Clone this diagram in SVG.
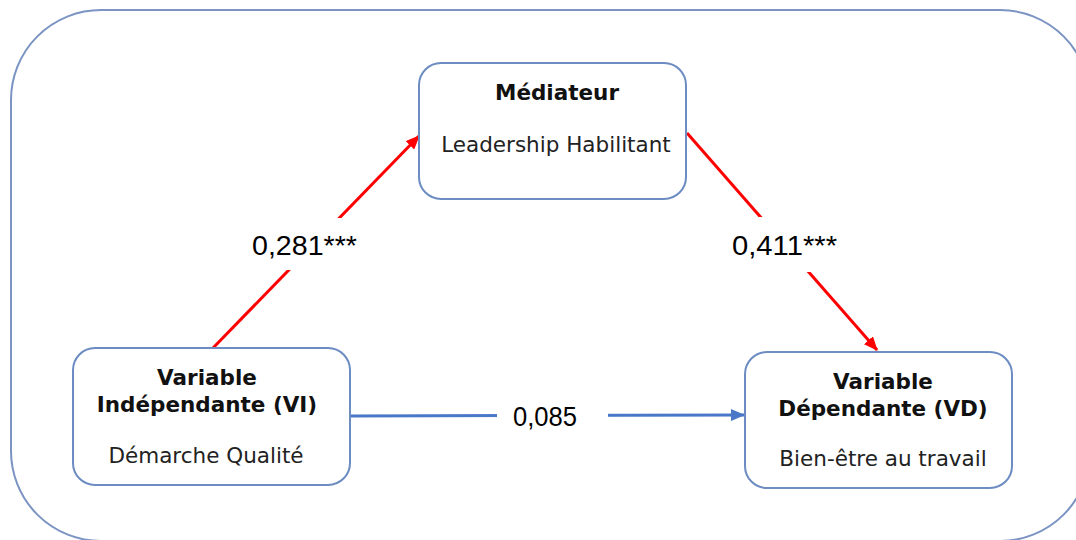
<svg xmlns="http://www.w3.org/2000/svg" width="1076" height="540" viewBox="0 0 1076 540">
  <style>
    .box { fill: #ffffff; stroke: #6c8cc2; stroke-width: 2; }
    .title { font-family: "DejaVu Sans", Verdana, sans-serif; font-weight: bold; font-size: 21.5px; fill: #111111; text-anchor: middle; }
    .body { font-family: "DejaVu Sans", Verdana, sans-serif; font-size: 21.5px; fill: #222222; text-anchor: middle; }
    .coef { font-family: "Liberation Sans", Arial, sans-serif; font-size: 27px; fill: #000000; text-anchor: middle; }
    .red { stroke: #ff0000; stroke-width: 3; fill: none; }
    .blue { stroke: #4a78c8; stroke-width: 3; fill: none; }
  </style>
  <defs>
    <marker id="arrRed" markerUnits="userSpaceOnUse" markerWidth="14" markerHeight="12" refX="13" refY="6" orient="auto">
      <path d="M0,0 L14,6 L0,12 Z" fill="#ff0000"/>
    </marker>
    <marker id="arrBlue" markerUnits="userSpaceOnUse" markerWidth="14" markerHeight="12" refX="13" refY="6" orient="auto">
      <path d="M0,0 L14,6 L0,12 Z" fill="#4a78c8"/>
    </marker>
  </defs>
  <rect width="1076" height="540" fill="#ffffff"/>
  <rect id="frame" x="11" y="10" width="1079" height="531" rx="90" ry="90" fill="none" stroke="#7b94c3" stroke-width="2"/>

  <g id="connectors">
    <line class="red" x1="213" y1="348" x2="419" y2="136" marker-end="url(#arrRed)"/>
    <line class="red" x1="687" y1="133" x2="877" y2="350" marker-end="url(#arrRed)"/>
    <line class="blue" x1="351" y1="416" x2="744" y2="415" marker-end="url(#arrBlue)"/>
    <rect x="246" y="218" width="116" height="52" fill="#ffffff"/>
    <rect x="726" y="217" width="116" height="55" fill="#ffffff"/>
    <rect x="497" y="398" width="111" height="36" fill="#ffffff"/>
    <text class="coef" x="304.5" y="255" textLength="105" lengthAdjust="spacingAndGlyphs">0,281***</text>
    <text class="coef" x="784.5" y="255" textLength="105" lengthAdjust="spacingAndGlyphs">0,411***</text>
    <text class="coef" x="545" y="426" textLength="64" lengthAdjust="spacingAndGlyphs">0,085</text>
  </g>

  <g id="mediateur">
    <rect class="box" x="419" y="63" width="267" height="136" rx="22" ry="22"/>
    <text class="title" x="557" y="100">Médiateur</text>
    <text class="body" x="556" y="152">Leadership Habilitant</text>
  </g>

  <g id="vi">
    <rect class="box" x="73" y="348" width="277" height="137" rx="22" ry="22"/>
    <text class="title" x="207" y="385">Variable</text>
    <text class="title" x="207" y="412">Indépendante (VI)</text>
    <text class="body" x="206" y="463">Démarche Qualité</text>
  </g>

  <g id="vd">
    <rect class="box" x="745" y="352" width="267" height="136" rx="22" ry="22"/>
    <text class="title" x="883" y="389">Variable</text>
    <text class="title" x="883" y="416">Dépendante (VD)</text>
    <text class="body" x="883" y="466">Bien-être au travail</text>
  </g>
</svg>
